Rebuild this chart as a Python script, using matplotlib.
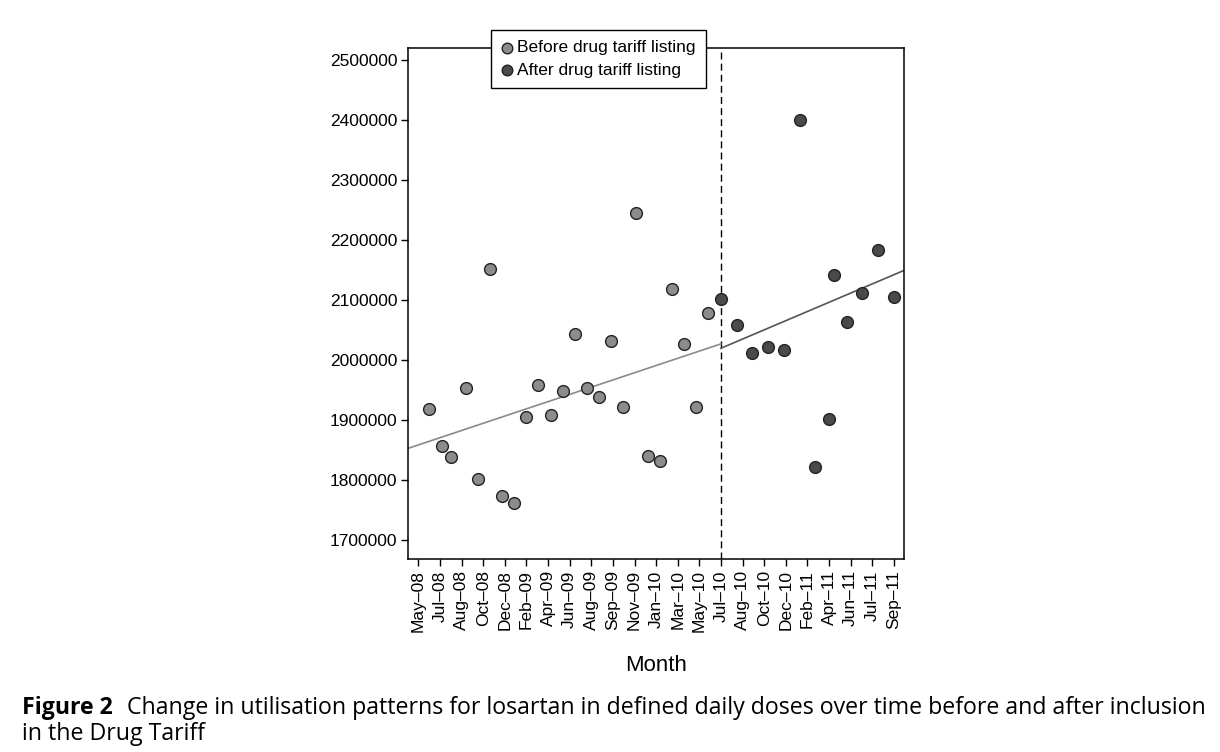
import matplotlib
matplotlib.use('Agg')
import matplotlib.pyplot as plt

plt.rcParams['font.family'] = ['Liberation Sans', 'DejaVu Sans']

# tick labels on the month axis (ticks evenly spaced, index 0..22)
tick_labels = ['May–08', 'Jul–08', 'Aug–08', 'Oct–08', 'Dec–08', 'Feb–09',
               'Apr–09', 'Jun–09', 'Aug–09', 'Sep–09', 'Nov–09', 'Jan–10',
               'Mar–10', 'May–10', 'Jul–10', 'Aug–10', 'Oct–10', 'Dec–10',
               'Feb–11', 'Apr–11', 'Jun–11', 'Jul–11', 'Sep–11']

# monthly DDDs, x in tick units
before_x = [0.50, 1.08, 1.50, 2.19, 2.75, 3.32, 3.87, 4.43, 5.00, 5.55, 6.13, 6.68,
            7.23, 7.81, 8.36, 8.93, 9.48, 10.06, 10.63, 11.18, 11.74, 12.31, 12.86, 13.42]
before_y = [1919000, 1857000, 1839000, 1953000, 1802000, 2151000, 1773000, 1762000,
            1905000, 1958000, 1908000, 1948000, 2044000, 1953000, 1938000, 2032000,
            1922000, 2245000, 1840000, 1831000, 2119000, 2026000, 1922000, 2079000]
after_x = [13.99, 14.73, 15.45, 16.18, 16.91, 17.65, 18.35, 19.00, 19.22, 19.82,
           20.54, 21.27, 22.01]
after_y = [2101000, 2059000, 2011000, 2021000, 2016000, 2400000, 1821000, 1902000,
           2142000, 2064000, 2111000, 2184000, 2105000]

# fitted trends (end points)
trend_before_x = [-0.463, 13.99]
trend_before_y = [1852800, 2026700]
trend_after_x = [13.99, 22.484]
trend_after_y = [2019400, 2149500]

listing_x = 14.0

caption_bold = 'Figure 2'
caption_1 = 'Change in utilisation patterns for losartan in defined daily doses over time before and after inclusion'
caption_2 = 'in the Drug Tariff'

fig = plt.figure(figsize=(12.2, 7.52), dpi=100)
ax = fig.add_axes([0.3347, 0.2563, 0.4066, 0.6795])

ax.plot(trend_before_x, trend_before_y, color='#8a8a8a', lw=1.2, zorder=2)
ax.plot(trend_after_x, trend_after_y, color='#555555', lw=1.2, zorder=2)
ax.axvline(listing_x, color='black', lw=1.0, ls=(0, (5, 3)), zorder=1)

ax.scatter(before_x, before_y, s=72, c='#8c8c8c', edgecolors='#222222',
           linewidths=1.0, zorder=3, label='Before drug tariff listing')
ax.scatter(after_x, after_y, s=72, c='#4a4a4a', edgecolors='#222222',
           linewidths=1.0, zorder=3, label='After drug tariff listing')

ax.set_xlim(-0.463, 22.484)
ax.set_ylim(1667800, 2519500)
ax.set_xticks(range(len(tick_labels)))
ax.set_xticklabels(tick_labels, rotation=90, fontsize=12.5)
yt = list(range(1700000, 2500001, 100000))
ax.set_yticks(yt)
ax.set_yticklabels([str(v) for v in yt], fontsize=12.5)
ax.tick_params(length=5, width=1, pad=3, color='black')
for s in ax.spines.values():
  s.set_linewidth(1.1)
ax.set_xlabel('Month', fontsize=16, labelpad=16)

leg = ax.legend(loc='upper left', bbox_to_anchor=(0.167, 1.036), fontsize=12.5,
                frameon=True, fancybox=False, edgecolor='black', framealpha=1,
                handlelength=0.6, handletextpad=0.3, borderpad=0.6,
                labelspacing=0.4, borderaxespad=0, markerscale=0.9)
leg.get_frame().set_linewidth(1.0)
leg.set_zorder(10)

# caption, sized so the first line spans the figure width
cap_font = ['Open Sans', 'DejaVu Sans']
fw = fig.bbox.width
t2 = fig.text(0, 0.0505, caption_1, fontsize=12.5, family=cap_font, va='baseline')
fig.canvas.draw()
r = fig.canvas.get_renderer()
w = t2.get_window_extent(r).width
fs = 12.5 * (1082.0 / w)
t2.set_fontsize(fs)
t1 = fig.text(22.0 / fw, 0.0505, caption_bold, fontsize=fs, fontweight='bold',
              family=cap_font, va='baseline')
fig.canvas.draw()
bb = t1.get_window_extent(r)
t2.set_x((bb.x1 + 14) / fw)
fig.text(22.0 / fw, 0.016, caption_2, fontsize=fs, family=cap_font, va='baseline')

plt.savefig('out.png', dpi=100)
